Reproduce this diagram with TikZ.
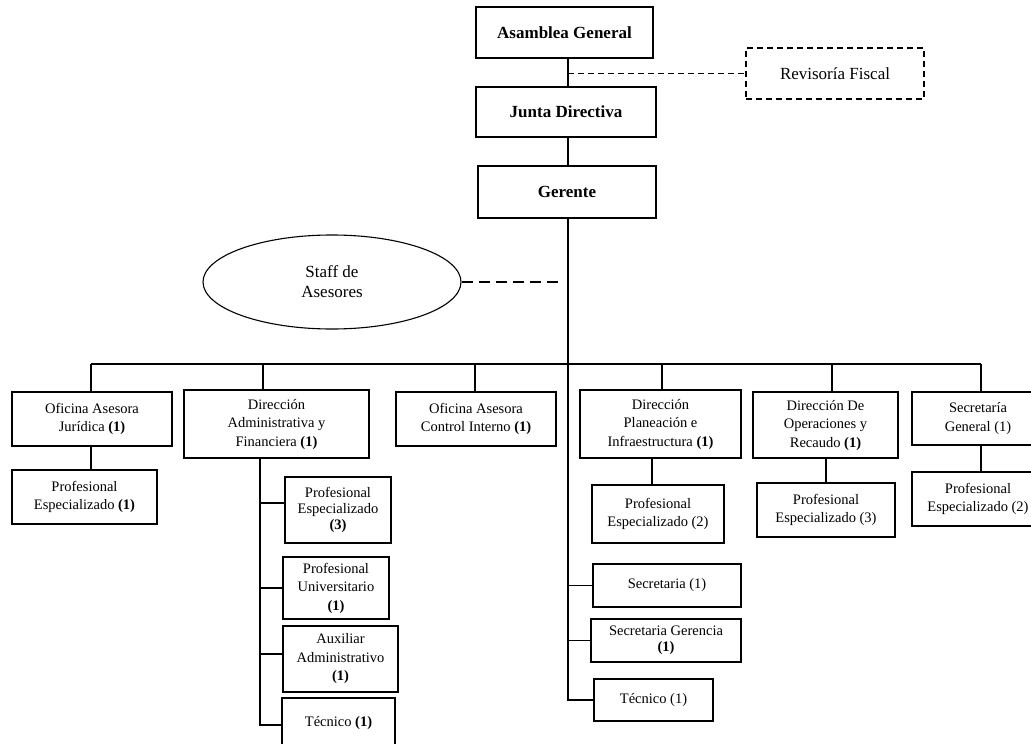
\documentclass[tikz,border=0pt]{standalone}
\usepackage{fontspec}
\setmainfont{Liberation Serif}
\usetikzlibrary{shapes.geometric}
\begin{document}
\begin{tikzpicture}[x=1pt,y=-1pt,
  box/.style={draw, line width=1.1pt, align=center, inner sep=1pt, font=\fontsize{14.5}{18.5}\selectfont},
  topbox/.style={box, font=\fontsize{17}{20}\selectfont\bfseries},
  link/.style={line width=1.1pt},
  dashA/.style={link, dash pattern=on 6pt off 4pt},
  dashB/.style={link, dash pattern=on 11pt off 6pt}]
\useasboundingbox (0,0) rectangle (1031,744);
\clip (0,0) rectangle (1031,744);
\fill[white] (0,0) rectangle (1031,744);

% top
\node[topbox, minimum width=177pt, minimum height=51pt] (asamblea) at (564.5,32.5) {Asamblea General};
\node[topbox, minimum width=180pt, minimum height=50pt] (junta) at (566,112) {Junta Directiva};
\node[topbox, minimum width=178pt, minimum height=52pt] (gerente) at (567,192) {Gerente};
\node[box, dashA, font=\fontsize{17}{20}\selectfont, minimum width=178pt, minimum height=51pt] (revisoria) at (835,73.5) {Revisoría Fiscal};
\node[ellipse, draw, line width=1.1pt, minimum width=258pt, minimum height=94pt, align=center, font=\fontsize{17}{20}\selectfont, inner sep=0pt] (staff) at (332,282) {Staff de\\Asesores};

% row
\node[box, minimum width=160pt, minimum height=54pt] (juridica) at (92,419) {Oficina Asesora\\Jurídica \textbf{(1)}};
\node[box, minimum width=185pt, minimum height=68pt] (admin) at (276.5,424) {Dirección\\Administrativa y\\Financiera \textbf{(1)}};
\node[box, minimum width=160pt, minimum height=54pt] (control) at (476,419) {Oficina Asesora\\Control Interno \textbf{(1)}};
\node[box, minimum width=161pt, minimum height=68pt] (planeacion) at (660.5,424) {Dirección\\Planeación e\\Infraestructura \textbf{(1)}};
\node[box, minimum width=145pt, minimum height=66pt] (operaciones) at (825.5,425) {Dirección De\\Operaciones y\\Recaudo \textbf{(1)}};
\node[box, minimum width=132pt, minimum height=53pt] (secgen) at (978,418.5) {Secretaría\\General (1)};

% sub boxes
\node[box, minimum width=145pt, minimum height=54pt] (pej) at (84.5,497) {Profesional\\Especializado \textbf{(1)}};
\node[box, font=\fontsize{14.5}{16}\selectfont, minimum width=106pt, minimum height=66pt] (pe3) at (338,510) {Profesional\\Especializado\\\textbf{(3)}};
\node[box, minimum width=106pt, minimum height=62pt] (pu) at (336,588) {Profesional\\Universitario\\\textbf{(1)}};
\node[box, minimum width=115pt, minimum height=66pt] (aux) at (340.5,659) {Auxiliar\\Administrativo\\\textbf{(1)}};
\node[box, minimum width=113pt, minimum height=50pt] (teca) at (338.5,723) {Técnico \textbf{(1)}};

\node[box, minimum width=132pt, minimum height=58pt] (pp2) at (658,514) {Profesional\\Especializado (2)};
\node[box, minimum width=138pt, minimum height=54pt] (po3) at (826,510) {Profesional\\Especializado (3)};
\node[box, minimum width=132pt, minimum height=54pt] (ps2) at (978,499) {Profesional\\Especializado (2)};
\node[box, minimum width=148pt, minimum height=43pt] (sec1) at (667,585.5) {Secretaria (1)};
\node[box, font=\fontsize{14.5}{16}\selectfont, minimum width=150pt, minimum height=43pt] (secger) at (666,640.5) {Secretaria Gerencia\\\textbf{(1)}};
\node[box, minimum width=119pt, minimum height=42pt] (tec2) at (653.5,700) {Técnico (1)};

% spine
\coordinate (spine) at (568,0);
\draw[link] (asamblea.south -| spine) -- (junta.north -| spine);
\draw[link] (junta.south -| spine) -- (gerente.north -| spine);
\draw[link] (gerente.south -| spine) -- (spine |- tec2.west) -- (tec2.west);
\draw[link] (spine |- sec1.west) -- (sec1.west);
\draw[link] (spine |- secger.west) -- (secger.west);
\draw[dashA] (spine |- revisoria.west) -- (revisoria.west);
\coordinate (staffend) at (563,282);
\draw[dashB] (staff.east) -- (staffend);

% bus
\coordinate (busL) at (91,364);
\coordinate (busR) at (981,364);
\coordinate (dA) at (263,364);
\coordinate (dC) at (475,364);
\coordinate (dP) at (662,364);
\coordinate (dO) at (832,364);
\draw[link] (busL) -- (busR);
\draw[link] (busL) -- (busL |- juridica.north);
\draw[link] (dA) -- (dA |- admin.north);
\draw[link] (dC) -- (dC |- control.north);
\draw[link] (dP) -- (dP |- planeacion.north);
\draw[link] (dO) -- (dO |- operaciones.north);
\draw[link] (busR) -- (busR |- secgen.north);

% sub links
\draw[link] (busL |- juridica.south) -- (busL |- pej.north);
\coordinate (admL) at (260,0);
\coordinate (admEnd) at (260,725);
\coordinate (pe3s) at ([yshift=7pt]pe3.west);
\coordinate (auxs) at ([yshift=5pt]aux.west);
\draw[link] (admL |- admin.south) -- (admEnd) -- (admEnd -| teca.west);
\draw[link] (admL |- pe3s) -- (pe3s);
\draw[link] (admL |- pu.west) -- (pu.west);
\draw[link] (admL |- auxs) -- (auxs);
\coordinate (ppl) at (652,0);
\draw[link] (ppl |- planeacion.south) -- (ppl |- pp2.north);
\draw[link] (po3.north |- operaciones.south) -- (po3.north);
\draw[link] (busR |- secgen.south) -- (busR |- ps2.north);
\end{tikzpicture}
\end{document}
